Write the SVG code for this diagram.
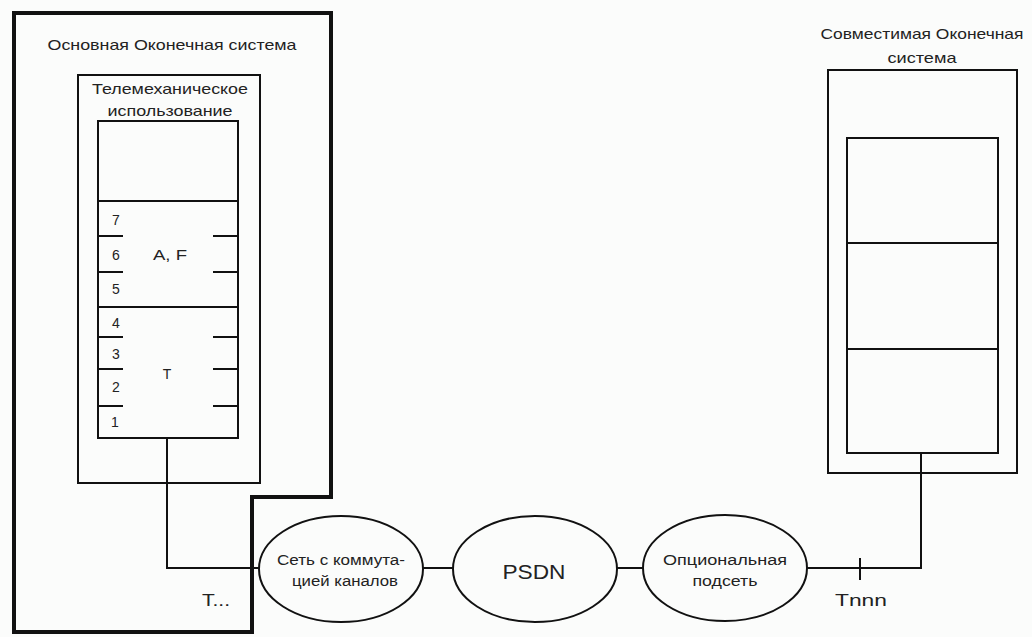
<svg xmlns="http://www.w3.org/2000/svg" width="1032" height="637" viewBox="0 0 1032 637">
<style>
text{font-family:"Liberation Sans",Arial,sans-serif;fill:#222;text-anchor:middle;dominant-baseline:central}
.b{fill:none;stroke:#111;stroke-width:2}
.thick{fill:none;stroke:#111;stroke-width:4}
.s{font-size:14px}
.m{font-size:15px}
.l{font-size:17px}
</style>
<rect width="1032" height="637" fill="#fbfcfb"/>
<g id="main-system">
<path class="thick" d="M14 13 H331 V497 H252 V632 H14 Z"/>
<text class="m" x="172" y="44" textLength="249" lengthAdjust="spacingAndGlyphs">Основная Оконечная система</text>
<text class="l" x="216" y="600" textLength="28" lengthAdjust="spacingAndGlyphs">T...</text>
</g>
<g id="telemech">
<rect class="b" x="78" y="75" width="182" height="408"/>
<text class="m" x="170" y="88" textLength="156" lengthAdjust="spacingAndGlyphs">Телемеханическое</text>
<text class="m" x="170" y="110" textLength="125" lengthAdjust="spacingAndGlyphs">использование</text>
</g>
<g id="stack">
<rect class="b" x="98" y="121" width="140" height="317"/>
<line class="b" x1="98" y1="201" x2="238" y2="201"/>
<line class="b" x1="98" y1="307" x2="238" y2="307"/>
<path class="b" d="M98 236 H123 M98 272 H123 M213 236 H238 M213 272 H238 M98 337 H123 M98 369 H123 M98 406 H123 M213 337 H238 M213 369 H238 M213 406 H238"/>
<text class="s" x="116" y="220">7</text>
<text class="s" x="116" y="255">6</text>
<text class="s" x="116" y="289">5</text>
<text class="s" x="116" y="323">4</text>
<text class="s" x="116" y="354">3</text>
<text class="s" x="116" y="387">2</text>
<text class="s" x="115" y="422">1</text>
<text class="s" x="170" y="255" textLength="34" lengthAdjust="spacingAndGlyphs">A, F</text>
<text class="s" x="167" y="374">T</text>
</g>
<g id="compat-system">
<text class="m" x="922" y="33" textLength="203" lengthAdjust="spacingAndGlyphs">Совместимая Оконечная</text>
<text class="m" x="922" y="57" textLength="69" lengthAdjust="spacingAndGlyphs">система</text>
<rect class="b" x="828" y="70" width="189" height="403"/>
<rect class="b" x="847" y="138" width="151" height="315"/>
<line class="b" x1="847" y1="243" x2="998" y2="243"/>
<line class="b" x1="847" y1="349" x2="998" y2="349"/>
</g>
<g id="circuit-net">
<ellipse class="b" cx="341" cy="569" rx="82" ry="53"/>
<text class="s" x="341" y="560" textLength="128" lengthAdjust="spacingAndGlyphs">Сеть с коммута-</text>
<text class="s" x="345" y="581" textLength="106" lengthAdjust="spacingAndGlyphs">цией каналов</text>
</g>
<g id="psdn">
<ellipse class="b" cx="535" cy="569" rx="82" ry="53"/>
<text x="534" y="571" style="font-size:21px" textLength="63" lengthAdjust="spacingAndGlyphs">PSDN</text>
</g>
<g id="optional-subnet">
<ellipse class="b" cx="725" cy="568" rx="82" ry="53"/>
<text class="s" x="725" y="560" textLength="124" lengthAdjust="spacingAndGlyphs">Опциональная</text>
<text class="s" x="725" y="581" textLength="65" lengthAdjust="spacingAndGlyphs">подсеть</text>
</g>
<g id="connectors">
<path class="b" d="M167 438 V568 H259"/>
<line class="b" x1="423" y1="568" x2="453" y2="568"/>
<line class="b" x1="617" y1="568" x2="643" y2="568"/>
<path class="b" d="M807 568 H921 V453"/>
<line class="b" x1="860" y1="558" x2="860" y2="580"/>
<text class="l" x="861" y="600" textLength="52" lengthAdjust="spacingAndGlyphs">Tnnn</text>
</g>
</svg>
